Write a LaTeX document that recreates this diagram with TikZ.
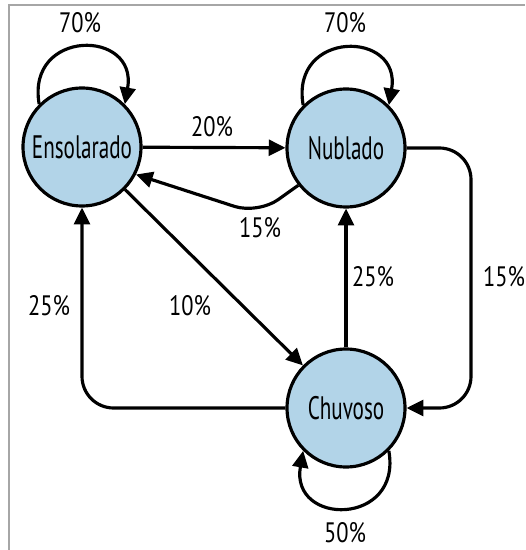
\documentclass[tikz,border=0pt]{standalone}
\usepackage{fontspec}
\setmainfont{PT Sans}[FakeStretch=0.8]
\newfontfamily\estadofont{PT Sans}[FakeStretch=0.65]
\usetikzlibrary{arrows.meta}
\definecolor{azulclaro}{RGB}{178,212,232}
\tikzset{
	estado/.style={circle,draw,line width=1.8pt,fill=azulclaro,minimum size=2.36cm,inner sep=0pt,font=\estadofont\fontsize{18.5}{20}\selectfont},
	trans/.style={line width=1.8pt,-{Triangle[length=9.5pt,width=9pt]}},
	pct/.style={font=\fontsize{16}{18}\selectfont,inner sep=0pt},
}
\begin{document}
\begin{tikzpicture}[x=0.02cm,y=-0.02cm]
	\useasboundingbox (0,0) rectangle (525,550);
	\draw[gray!70,line width=0.8pt] (9,550) -- (9,5) -- (525,5);
	\coordinate (C15) at (258,214);
	\coordinate (D15) at (471,408);
	\node[estado] (ens) at (82,147) {Ensolarado};
	\node[estado] (nub) at (346,148) {Nublado};
	\node[estado] (chu) at (346,408) {Chuvoso};
	\draw[trans] (ens) -- (nub);
	\draw[trans,rounded corners=14pt] (nub.218) -- (C15) -- (ens.-27);
	\draw[trans] (ens) -- (chu);
	\draw[trans,rounded corners=18pt] (chu) -| (ens);
	\draw[trans] (chu) -- (nub);
	\draw[trans,rounded corners=18pt] (nub) -| (D15) -- (chu);
	\draw[trans] (ens.135) to[out=100,in=80,looseness=2.3] (ens.45);
	\draw[trans] (nub.135) to[out=100,in=80,looseness=2.3] (nub.45);
	\draw[trans] (chu.-45) to[out=-80,in=-100,looseness=2.3] (chu.-135);
	\node[pct] (l-ens) at (80,23) {70\%};
	\node[pct] (l-nub) at (345,23) {70\%};
	\node[pct] (l-en) at (212,127) {20\%};
	\node[pct] (l-ne) at (260,228) {15\%};
	\node[pct] (l-ce) at (49,306) {25\%};
	\node[pct] (l-ec) at (190,306) {10\%};
	\node[pct] (l-cn) at (373,277) {25\%};
	\node[pct] (l-nc) at (504,277) {15\%};
	\node[pct] (l-chu) at (345,533) {50\%};
\end{tikzpicture}
\end{document}
